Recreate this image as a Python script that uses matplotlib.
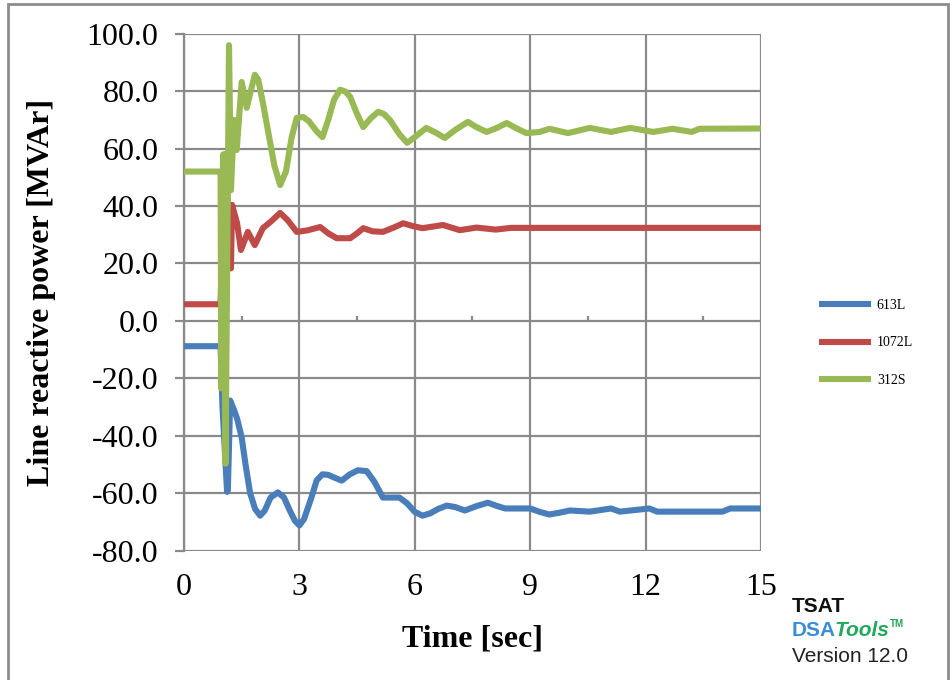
import numpy as np
import matplotlib.pyplot as plt
from matplotlib.patches import Rectangle

# time [sec] / line reactive power [MVAr]
t_613 = [0, 0.95, 1.0, 1.12, 1.14, 1.2, 1.3, 1.38, 1.5, 1.6, 1.72, 1.85, 1.98, 2.1, 2.25, 2.44,
         2.6, 2.75, 2.88, 3.0, 3.12, 3.3, 3.45, 3.6, 3.75, 3.9, 4.1, 4.3, 4.52, 4.75, 4.95,
         5.17, 5.6, 5.8, 6.0, 6.2, 6.4, 6.6, 6.83, 7.05, 7.3, 7.6, 7.9, 8.15, 8.35, 9.0,
         9.25, 9.5, 9.75, 10.03, 10.55, 11.1, 11.33, 12.1, 12.3, 14.0, 14.2, 15]
q_613 = [-8.8, -8.8, -30, -59.5, -59, -27.7, -31, -34, -40.6, -50, -60, -65.5, -67.8, -66, -61.5, -59.7,
         -61.5, -66, -69.5, -71.2, -69, -62, -55.5, -53.4, -53.6, -54.5, -55.6, -53.5, -52, -52.3, -56,
         -61.5, -61.5, -63.5, -66.5, -67.8, -67, -65.5, -64.3, -64.8, -66, -64.5, -63.3, -64.5, -65.3, -65.3,
         -66.5, -67.4, -66.8, -66, -66.4, -65.3, -66.4, -65.3, -66.4, -66.4, -65.3, -65.3]

t_1072 = [0, 0.95, 1.0, 1.07, 1.12, 1.2, 1.22, 1.25, 1.38, 1.48, 1.66, 1.84, 2.05, 2.25, 2.5,
          2.7, 2.93, 3.2, 3.54, 3.75, 3.97, 4.32, 4.5, 4.66, 4.9, 5.17, 5.45, 5.7, 5.95, 6.2,
          6.45, 6.73, 6.95, 7.17, 7.6, 8.1, 8.5, 15]
q_1072 = [5.8, 5.8, 30, 58, 45, 20, 18.3, 40.4, 34, 24.7, 31, 26.4, 32.3, 34.5, 37.6,
          35, 31, 31.5, 32.7, 30.5, 28.8, 28.8, 30.5, 32.3, 31.2, 31, 32.5, 34, 33, 32.3,
          32.8, 33.4, 32.5, 31.6, 32.5, 31.8, 32.4, 32.4]

t_312 = [0, 0.95, 0.97, 1.02, 1.08, 1.17, 1.22, 1.3, 1.37, 1.5, 1.63, 1.84, 1.93, 2.05, 2.18,
         2.35, 2.5, 2.65, 2.8, 2.93, 3.1, 3.25, 3.45, 3.6, 3.75, 3.9, 4.06, 4.2, 4.32, 4.5,
         4.66, 4.85, 5.05, 5.2, 5.35, 5.6, 5.8, 6.0, 6.3, 6.55, 6.78, 7.05, 7.38, 7.6, 7.87,
         8.1, 8.39, 8.65, 8.9, 9.25, 9.5, 9.98, 10.55, 11.1, 11.6, 12.2, 12.7, 13.2, 13.4, 15]
q_312 = [52, 52, -23.5, 58, -49.7, 96, 45.5, 70, 59.5, 83.2, 74.2, 85.7, 84, 76, 66.5,
         54, 47.3, 52, 64, 70.7, 71, 69.5, 66, 64, 70, 77, 80.5, 79.8, 78, 72,
         67.5, 70.5, 72.8, 72, 70, 65, 62, 64, 67.2, 65.5, 63.7, 66.5, 69.3, 67.5, 65.8,
         67, 68.9, 67, 65.4, 65.8, 66.9, 65.4, 67.2, 65.8, 67.2, 65.8, 66.9, 65.8, 66.9, 67]

x_ticks = [0, 3, 6, 9, 12, 15]
y_ticks = np.arange(-80, 101, 20)

grid_col = '#8a8a8a'
serif = 'Liberation Serif'

fig = plt.figure(figsize=(9.52, 6.8), dpi=100)
fig.patches.append(Rectangle((8 / 952, -0.1), 940 / 952, 1.1 - 4 / 680,
                             transform=fig.transFigure, fill=False,
                             edgecolor='#8c8c8c', lw=2))

ax = fig.add_axes([184 / 952, 1 - 550.7 / 680, 577 / 952, 517 / 680])
kw = dict(lw=4.4, solid_joinstyle='round', solid_capstyle='butt', zorder=3)
ax.plot(t_613, q_613, color='#4A7EBB', label='613L', **kw)
ax.plot(t_1072, q_1072, color='#BE4B48', label='1072L', **kw)
ax.plot(t_312, q_312, color='#98B954', label='312S', **kw)

ax.set_xlim(0, 15)
ax.set_ylim(-80, 100)
ax.set_xticks(x_ticks)
ax.set_yticks(y_ticks)
ax.set_yticklabels([f'{v:.1f}' for v in y_ticks])
ax.grid(True, color=grid_col, lw=1.6)
for s in ['top', 'right', 'bottom']:
    ax.spines[s].set_visible(False)
ax.spines['left'].set_color(grid_col)
ax.spines['left'].set_linewidth(1.6)
ax.tick_params(axis='y', direction='out', length=6.5, width=1.6, color=grid_col, pad=12,
               labelsize=23)
ax.tick_params(axis='x', length=0, pad=16, labelsize=23)
for lab in ax.get_xticklabels() + ax.get_yticklabels():
    lab.set_fontfamily(serif)

# small ticks on the zero line
ax.vlines(np.arange(1.5, 15, 3), 0, 1.8, color=grid_col, lw=1.6, zorder=2)

ax.set_xlabel('Time [sec]', fontfamily=serif, fontweight='bold', fontsize=23, labelpad=16)
ax.set_ylabel('Line reactive power [MVAr]', fontfamily=serif, fontweight='bold',
              fontsize=23, labelpad=22)

fig.legend(loc='center left', bbox_to_anchor=(806 / 952, 1 - 343 / 680), frameon=False,
           prop={'family': serif, 'size': 10}, handlelength=3.8, handletextpad=0.4,
           labelspacing=1.75)

# TSAT logo text
fig.text(792 / 952, 1 - 606 / 680, 'TSAT', fontfamily='Liberation Sans', fontweight='bold',
         fontsize=15, va='center', color='#111111')
fig.text(792 / 952, 1 - 630 / 680, 'DSA', fontfamily='Liberation Sans', fontweight='bold',
         fontsize=15, va='center', color='#3C8DD8')
fig.text(835 / 952, 1 - 630 / 680, 'Tools', fontfamily='Liberation Sans', fontweight='bold',
         fontstyle='italic', fontsize=15, va='center', color='#22A85A')
fig.text(890 / 952, 1 - 624 / 680, 'TM', fontfamily='Liberation Sans', fontweight='bold',
         fontsize=7, va='center', color='#22A85A')
fig.text(792 / 952, 1 - 656 / 680, 'Version 12.0', fontfamily='Liberation Sans',
         fontsize=15, va='center', color='#222222')

fig.savefig('out.png', dpi=100)
